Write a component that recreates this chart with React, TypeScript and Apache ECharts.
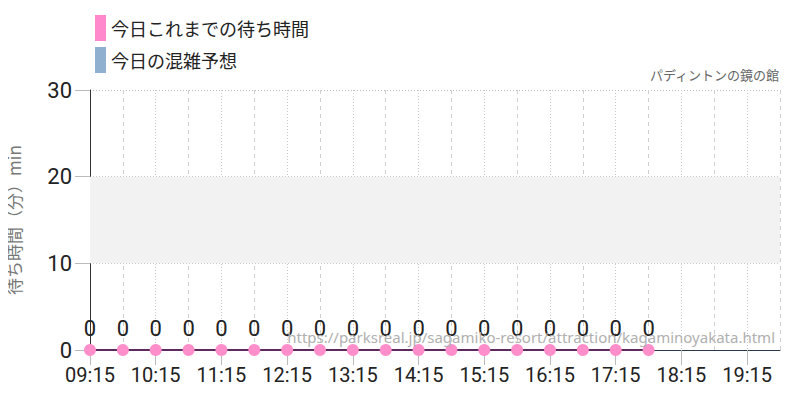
import React, { useEffect, useRef } from 'react';
import * as echarts from 'echarts';

const times = [
  '09:15', '09:45', '10:15', '10:45', '11:15', '11:45', '12:15', '12:45',
  '13:15', '13:45', '14:15', '14:45', '15:15', '15:45', '16:15', '16:45',
  '17:15', '17:45', '18:15', '18:45', '19:15', '19:45',
];
const waitToday = [0, 0, 0, 0, 0, 0, 0, 0, 0, 0, 0, 0, 0, 0, 0, 0, 0, 0];
const forecast: number[] = [];
const yTicks = { min: 0, max: 30, interval: 10 };
const band = [10, 20];

const NUM_FONT = "Roboto, sans-serif";
const JP_FONT = "'Noto Sans CJK JP', sans-serif";

export default function App() {
  const chartRef = useRef<HTMLDivElement>(null);

  useEffect(() => {
    if (!chartRef.current) return;
    const myChart = echarts.init(chartRef.current, undefined, { renderer: 'svg' });

    const option = {
      animation: false,
      title: {
        text: 'パディントンの鏡の館',
        right: 15,
        top: 63,
        textStyle: { color: '#666', fontSize: 13, fontWeight: 'normal', fontFamily: JP_FONT },
      },
      legend: {
        orient: 'vertical',
        left: 90,
        top: 10,
        itemWidth: 11,
        itemHeight: 26,
        itemGap: 6,
        icon: 'rect',
        textStyle: { color: '#222', fontSize: 18, fontFamily: JP_FONT },
        data: [
          { name: '今日これまでの待ち時間', itemStyle: { color: '#ff88cc' } },
          { name: '今日の混雑予想', itemStyle: { color: '#8fb0cf' } },
        ],
      },
      graphic: [
        {
          type: 'text',
          right: 25,
          top: 329,
          z: 100,
          style: {
            text: 'https://parksreal.jp/sagamiko-resort/attraction/kagaminoyakata.html',
            fill: '#b0b0b0',
            fontSize: 15,
            fontFamily: "'Noto Sans', sans-serif",
          },
        },
      ],
      grid: { left: 90, right: 20, top: 90, bottom: 50, outerBoundsMode: 'none' },
      xAxis: [
        {
          type: 'category',
          data: times,
          boundaryGap: false,
          axisLine: { lineStyle: { color: '#2a3a4a', width: 1 } },
          axisTick: { alignWithLabel: true, interval: 1, length: 15, lineStyle: { color: '#bbb' } },
          axisLabel: {
            interval: 1,
            color: '#222',
            fontSize: 20,
            fontFamily: NUM_FONT,
            margin: 15,
          },
          splitLine: {
            show: true,
            interval: (i: number) => i % 2 === 0,
            lineStyle: { color: '#c8c8c8', type: [1, 2] },
          },
        },
        {
          type: 'category',
          data: times,
          boundaryGap: false,
          position: 'bottom',
          axisLine: { show: false },
          axisTick: { show: false },
          axisLabel: { show: false },
          splitLine: {
            show: true,
            interval: (i: number) => i % 2 === 1,
            lineStyle: { color: '#d0d0d0', type: [4, 4] },
          },
        },
      ],
      yAxis: {
        type: 'value',
        min: yTicks.min,
        max: yTicks.max,
        interval: yTicks.interval,
        name: '待ち時間（分）min',
        nameLocation: 'middle',
        nameRotate: 90,
        nameGap: 68,
        nameTextStyle: { color: '#777', fontSize: 17, fontFamily: JP_FONT },
        axisLine: { show: true, lineStyle: { color: '#333' } },
        axisTick: { show: true, length: 15, lineStyle: { color: '#bbb' } },
        axisLabel: {
          color: '#222',
          fontSize: 22,
          fontFamily: NUM_FONT,
          margin: 18,
        },
        splitLine: { lineStyle: { color: '#bbb', type: [1, 2] } },
      },
      series: [
        {
          name: '今日の混雑予想',
          type: 'line',
          data: forecast,
          symbol: 'none',
          itemStyle: { color: '#8fb0cf' },
          markArea: {
            silent: true,
            itemStyle: { color: '#f2f2f2' },
            data: [[{ yAxis: band[0] }, { yAxis: band[1] }]],
          },
        },
        {
          name: '今日これまでの待ち時間',
          type: 'line',
          data: waitToday,
          symbol: 'circle',
          symbolSize: 12,
          itemStyle: { color: '#ff8ecb' },
          lineStyle: { color: '#5e2a5e', width: 2 },
          label: {
            show: true,
            position: 'top',
            distance: 5,
            color: '#222',
            fontSize: 22,
            fontFamily: NUM_FONT,
          },
          z: 5,
        },
      ],
    };

    myChart.setOption(option);
    return () => myChart.dispose();
  }, []);

  return <div ref={chartRef} style={{ width: 800, height: 400, margin: -8 }} />;
}
